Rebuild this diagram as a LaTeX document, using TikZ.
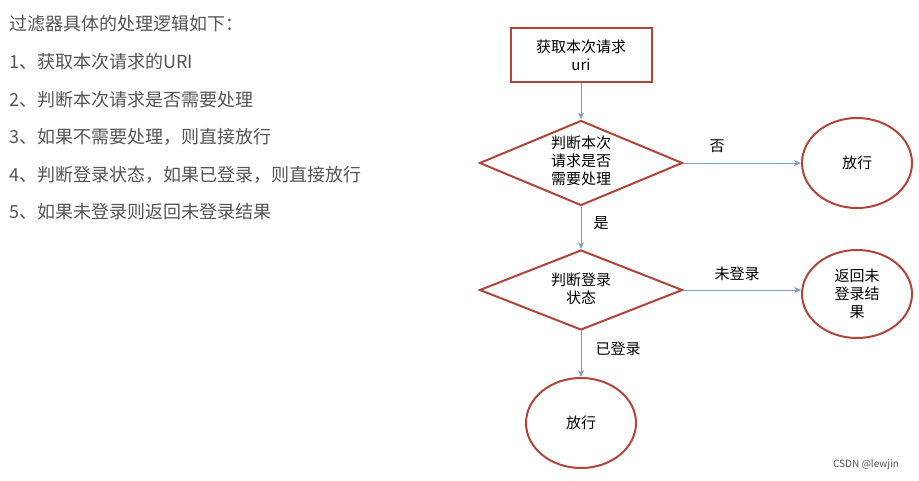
\documentclass[tikz,border=0pt]{standalone}
\usepackage{fontspec}
\setmainfont{Noto Sans CJK SC}
\usetikzlibrary{shapes.geometric,arrows.meta}
\definecolor{bord}{HTML}{B0453A}
\definecolor{arr}{HTML}{7F9CC8}
\definecolor{txt}{HTML}{555555}
\begin{document}
\begin{tikzpicture}[x=1pt,y=-1pt,
  every node/.style={font=\fontsize{15}{18}\selectfont, text=black},
  box/.style={draw=bord,line width=2pt,minimum width=141pt,minimum height=54pt,align=center},
  dia/.style={draw=bord,line width=2pt,diamond,aspect=2.4,minimum width=203pt,minimum height=85pt,inner sep=0pt,align=center},
  circ/.style={draw=bord,line width=2pt,ellipse,minimum width=110pt,minimum height=90pt,inner sep=0pt,align=center},
  conn/.style={draw=arr,line width=0.8pt,-{Stealth[length=7pt,width=6pt]}},
  lab/.style={font=\fontsize{15}{18}\selectfont},
  left/.style={anchor=west,text=txt,font=\fontsize{18}{21}\selectfont}]
\useasboundingbox[fill=white] (0,0) rectangle (919,480);
\node[left] (t0) at (6,24) {过滤器具体的处理逻辑如下：};
\node[left] (t1) at (6,62) {1、获取本次请求的URI};
\node[left] (t2) at (6,100) {2、判断本次请求是否需要处理};
\node[left] (t3) at (6,137) {3、如果不需要处理，则直接放行};
\node[left] (t4) at (6,175) {4、判断登录状态，如果已登录，则直接放行};
\node[left] (t5) at (6,212) {5、如果未登录则返回未登录结果};
\node[box] (b) at (581,55) {获取本次请求\\uri};
\node[dia] (d1) at (581,163) {};
\node (d1t) at (581,161) [align=center] {判断本次\\请求是否\\需要处理};
\node[dia,minimum height=80pt] (d2) at (581,290) {};
\node (d2t) at (581,289) [align=center] {判断登录\\状态};
\node[circ] (c1) at (857,163) {放行};
\node[circ,minimum height=88pt] (c2) at (857,294) {返回未\\登录结\\果};
\node[circ,minimum height=90pt] (c3) at (581,423) {放行};
\draw[conn] (b) -- (d1);
\draw[conn] (d1.east) -- (c1);
\draw[conn] (d1.south) -- (d2.north);
\draw[conn] (d2.east) -- (d2.east -| c2.west);
\draw[conn] (d2.south) -- (c3);
\node[lab] (l1) at (717,146) {否};
\node[lab] (l2) at (601,223) {是};
\node[lab] (l3) at (737,274) {未登录};
\node[lab] (l4) at (618,349) {已登录};
\node[font=\fontsize{10}{12}\selectfont,text=txt] (w) at (866,465) {CSDN @lewjin};
\end{tikzpicture}
\end{document}
